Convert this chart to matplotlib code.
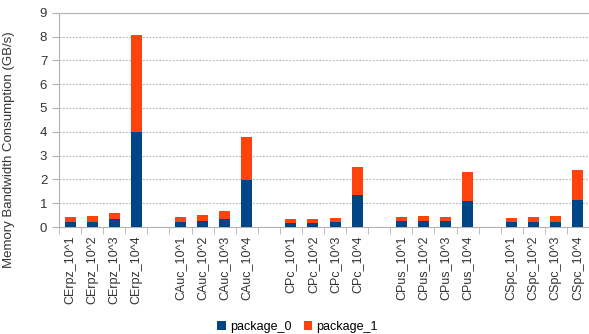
import matplotlib.pyplot as plt
import numpy as np

plt.rcParams['font.family'] = ['Liberation Sans', 'DejaVu Sans']

groups = ['CErpz', 'CAuc', 'CPc', 'CPus', 'CSpc']
sizes = ['10^1', '10^2', '10^3', '10^4']

# values per group, in order of sizes (GB/s)
package_0 = [
    [0.22, 0.22, 0.32, 4.00],
    [0.22, 0.27, 0.36, 1.97],
    [0.18, 0.18, 0.20, 1.36],
    [0.24, 0.24, 0.24, 1.08],
    [0.22, 0.22, 0.22, 1.15],
]
package_1 = [
    [0.21, 0.24, 0.27, 4.08],
    [0.19, 0.22, 0.33, 1.80],
    [0.16, 0.16, 0.19, 1.17],
    [0.19, 0.22, 0.19, 1.23],
    [0.17, 0.19, 0.23, 1.26],
]

# build the category axis with an empty slot between groups
labels = []
p0 = []
p1 = []
for gi, g in enumerate(groups):
    for si, s in enumerate(sizes):
        labels.append(g + '_' + s)
        p0.append(package_0[gi][si])
        p1.append(package_1[gi][si])
    if gi < len(groups) - 1:
        labels.append('')
        p0.append(np.nan)
        p1.append(np.nan)

p0 = np.array(p0)
p1 = np.array(p1)
x = np.arange(len(labels))

fig = plt.figure(figsize=(5.89, 3.34), dpi=100)
ax = fig.add_axes([59 / 589, 0.32, 530 / 589, 0.642])

ax.bar(x, p0, width=0.5, color='#004586', label='package_0', zorder=3)
ax.bar(x, p1, width=0.5, bottom=p0, color='#ff420e', label='package_1', zorder=3)

ax.set_xlim(-0.5, len(labels) - 0.5)
ax.set_ylim(0, 9)
ax.set_yticks(range(10))
ax.yaxis.grid(True, color='#b3b3b3', linestyle=(0, (1.5, 1.5)), linewidth=0.8)
ax.set_axisbelow(True)

ax.set_xticks(x)
ax.set_xticklabels(labels, rotation=90, fontsize=9, color='#333333')
ax.tick_params(axis='x', length=0, pad=6)
ax.set_xticks(np.arange(len(labels) + 1) - 0.5, minor=True)
ax.tick_params(axis='x', which='minor', length=5, color='#b3b3b3')
ax.tick_params(axis='y', length=5, color='#b3b3b3', labelsize=9.5, labelcolor='#333333')

for side in ['left', 'bottom', 'top']:
    ax.spines[side].set_color('#b3b3b3')
ax.spines['right'].set_visible(False)

ax.set_ylabel('Memory Bandwidth Consumption (GB/s)', fontsize=9.5, color='#333333')
ax.yaxis.set_label_coords(-0.083, 0.36)

fig.legend(loc='lower center', bbox_to_anchor=(0.505, -0.03), ncol=2, frameon=False,
           fontsize=9, handlelength=0.7, handleheight=0.7, handletextpad=0.3, columnspacing=1.0)

fig.savefig('out.png', dpi=100)
